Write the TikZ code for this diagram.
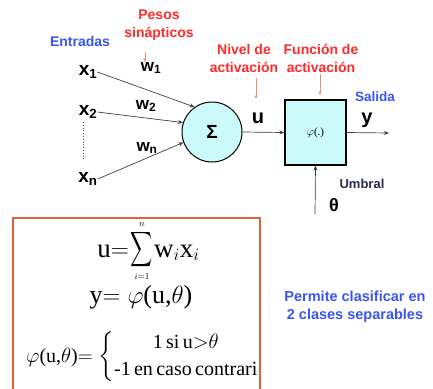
\documentclass[tikz,border=0pt]{standalone}
\usepackage{fontspec}
\usepackage{amsmath}
\setmainfont{Liberation Serif}
\newfontfamily\lab{Liberation Sans}
\usetikzlibrary{arrows.meta}
\definecolor{lred}{HTML}{FF2A2A}
\definecolor{lblue}{HTML}{3A55F0}
\definecolor{larrow}{HTML}{F08A70}
\definecolor{cyanfill}{HTML}{CCFAFA}
\definecolor{boxred}{HTML}{E0603C}
\definecolor{navy}{HTML}{2A2A55}
\tikzset{
  redlab/.style={font=\lab\bfseries\fontsize{14}{18}\selectfont, text=lred, align=center, inner sep=0pt},
  bluelab/.style={font=\lab\bfseries\fontsize{14}{18}\selectfont, text=lblue, align=center, inner sep=0pt},
  var/.style={font=\lab\bfseries\fontsize{19}{20}\selectfont, inner sep=0pt},
  wvar/.style={font=\lab\bfseries\fontsize{17}{18}\selectfont, inner sep=0pt},
  conn/.style={draw=black!75, line width=0.7pt, -{Stealth[length=5pt,width=4pt]}},
  pointer/.style={draw=larrow, line width=0.7pt, -{Stealth[length=4pt,width=3pt]}},
  formula/.style={inner sep=0pt},
  limit/.style={inner sep=0pt, font=\fontsize{9}{10}\selectfont}
}
\begin{document}
\begin{tikzpicture}[x=1pt,y=-1pt]
\useasboundingbox (0,0) rectangle (433,388);
% labels
\node[redlab] (pesos) at (159,25) {Pesos\\sinápticos};
\node[bluelab] (entradas) at (80,41) {Entradas};
\node[redlab] (nivel) at (244,58) {Nivel de\\activación};
\node[redlab] (funcion) at (321,58) {Función de\\activación};
\node[bluelab, font=\lab\bfseries\fontsize{13.5}{15}\selectfont] (salida) at (375,97) {Salida};
% inputs
\node[var] (x1) at (88,72) {x\textsubscript{1}};
\node[var] (x2) at (88,112) {x\textsubscript{2}};
\node[var] (xn) at (88,179) {x\textsubscript{n}};
\coordinate (d1) at (83,122);
\coordinate (d2) at (83,160);
\draw[black!70, line width=0.8pt, dotted] (d1) -- (d2);
\node[wvar] (w1) at (151,68) {w\textsubscript{1}};
\node[wvar] (w2) at (146,106) {w\textsubscript{2}};
\node[wvar] (wn) at (147,148) {w\textsubscript{n}};
\coordinate (pw) at (145,52);
\draw[pointer] (pw) -- (w1.north -| pw);
% summation
\node[circle, draw, line width=1pt, fill=cyanfill, minimum size=60pt, inner sep=0pt,
      font=\lab\bfseries\fontsize{19}{20}\selectfont] (sum) at (212,132) {Σ};
\draw[conn] (x1.east) -- (sum.125);
\draw[conn] (x2.east) -- (sum.162);
\draw[conn] (xn.east) -- (sum.200);
% activation
\node[draw, line width=1.2pt, fill=cyanfill, minimum width=61pt, minimum height=65pt, inner sep=0pt,
      font=\fontsize{11}{12}\selectfont] (phi) at (315.5,132.5) {$\varphi$(.)};
\node[var, font=\lab\bfseries\fontsize{20}{20}\selectfont] (u) at (258,118) {u};
\draw[conn] (sum.east) -- (phi.west);
\coordinate (pn) at (256,78);
\coordinate (pn2) at (256,99);
\draw[pointer] (pn) -- (pn2);
\coordinate (pf) at (320,74);
\coordinate (pf2) at (320,95);
\draw[pointer] (pf) -- (pf2);
\node[var, font=\lab\bfseries\fontsize{20}{20}\selectfont] (y) at (367,120) {y};
\coordinate (out) at (389,133);
\draw[conn] (phi.east) -- (out);
\coordinate (thr) at (315,214);
\draw[conn] (thr) -- (phi.south);
\node[var, font=\lab\bfseries\fontsize{18}{20}\selectfont] (theta) at (334,205) {θ};
\node[inner sep=0pt, font=\lab\bfseries\fontsize{13}{14}\selectfont, text=navy] (umbral) at (362,184) {Umbral};
% formula box
\draw[boxred, line width=2pt] (13,396) -- (13,218) -- (260,218) -- (260,396);
\node[formula, font=\fontsize{27}{30}\selectfont, anchor=base east] (f1a) at (129,257) {u$=$};
\node[formula, font=\fontsize{27}{30}\selectfont] (f1s) at (142,250) {\scalebox{0.62}[0.98]{$\displaystyle\sum$}};
\node[limit] (f1n) at (142,225) {$n$};
\node[limit] (f1i) at (142,277) {$i{=}1$};
\node[formula, font=\fontsize{27}{30}\selectfont, anchor=base west] (f1b) at (154,257) {w$_i$x$_i$};
\node[formula, font=\fontsize{26}{28}\selectfont, anchor=base] (f2) at (141,303) {y$=\varphi$(u,$\theta$)};
\node[formula, font=\fontsize{20}{24}\selectfont, anchor=west] (f3) at (26,357)
  {$\varphi$(u,$\theta$)$=\left\{\begin{array}{@{}c@{}}\text{1\,si\,u}{>}\theta\\[3pt] \text{-1\,en\,caso\,contrari}\end{array}\right.$};
% note
\node[bluelab, font=\lab\bfseries\fontsize{14.5}{18}\selectfont] (note) at (355,307) {Permite clasificar en\\2 clases separables};
\end{tikzpicture}
\end{document}
